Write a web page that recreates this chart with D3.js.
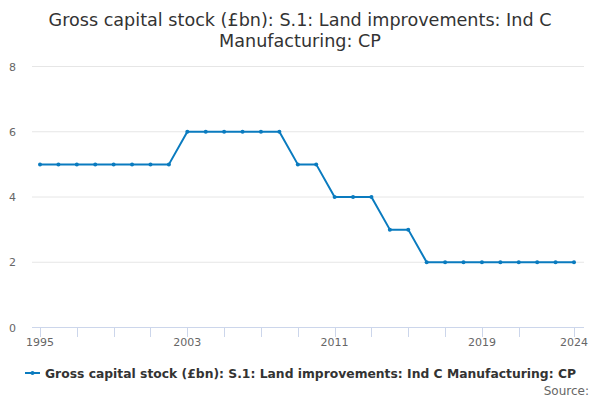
<!DOCTYPE html>
<html><head><meta charset="utf-8">
<script src="https://cdn.jsdelivr.net/npm/d3@7"></script>
<style>body{margin:0;background:#fff}svg{display:block;font-family:"DejaVu Sans",sans-serif}</style>
</head><body><svg id="c" width="600" height="400"></svg>
<script>
const years = d3.range(1995, 2025);
const values = [5,5,5,5,5,5,5,5,6,6,6,6,6,6,5,5,4,4,4,3,3,2,2,2,2,2,2,2,2,2];
const yTicks = [0,2,4,6,8];
const xLabelYears = [1995,2003,2011,2019,2024];
const xTickYears = [1995,1997,1999,2001,2003,2005,2007,2009,2011,2013,2015,2017,2019,2021,2024];
const titleLines = ["Gross capital stock (£bn): S.1: Land improvements: Ind C","Manufacturing: CP"];
const seriesName = "Gross capital stock (£bn): S.1: Land improvements: Ind C Manufacturing: CP";
const color = "#0a7bbf";

const svg = d3.select("#c");
const x = d3.scaleLinear().domain([1995,2024]).range([40,574]);
const y = d3.scaleLinear().domain([0,8]).range([327.5,66.5]);

svg.append("g").selectAll("text").data(titleLines).join("text")
  .attr("x",300).attr("y",(d,i)=>26+i*21).attr("text-anchor","middle")
  .attr("font-size",17.6).attr("fill","#333").text(d=>d);

// grid
svg.append("g").selectAll("line").data(yTicks.filter(t=>t>0)).join("line")
  .attr("x1",32).attr("x2",584).attr("y1",d=>y(d)).attr("y2",d=>y(d))
  .attr("stroke","#e6e6e6").attr("stroke-width",1);
svg.append("g").selectAll("text").data(yTicks).join("text")
  .attr("x",16).attr("y",d=>y(d)+4).attr("text-anchor","end")
  .attr("font-size",11).attr("fill","#666").text(d=>d);

// x axis
svg.append("line").attr("x1",32).attr("x2",584).attr("y1",327.5).attr("y2",327.5)
  .attr("stroke","#ccd6eb").attr("stroke-width",1);
svg.append("g").selectAll("line").data(xTickYears).join("line")
  .attr("x1",d=>Math.round(x(d))+0.5).attr("x2",d=>Math.round(x(d))+0.5).attr("y1",327).attr("y2",337)
  .attr("stroke","#ccd6eb").attr("stroke-width",1);
svg.append("g").selectAll("text").data(xLabelYears).join("text")
  .attr("x",d=>x(d)).attr("y",346).attr("text-anchor","middle")
  .attr("font-size",11).attr("fill","#666").text(d=>d);

// line
const data = years.map((yr,i)=>({yr,v:values[i]}));
svg.append("path").datum(data)
  .attr("d",d3.line().x(d=>x(d.yr)).y(d=>y(d.v)))
  .attr("fill","none").attr("stroke",color).attr("stroke-width",2).attr("stroke-linejoin","round");
svg.append("g").selectAll("circle").data(data).join("circle")
  .attr("cx",d=>x(d.yr)).attr("cy",d=>y(d.v)).attr("r",2).attr("fill",color);

// legend
const lg = svg.append("g");
lg.append("line").attr("x1",25).attr("x2",40).attr("y1",373).attr("y2",373).attr("stroke",color).attr("stroke-width",2);
lg.append("circle").attr("cx",32.5).attr("cy",373).attr("r",2).attr("fill",color);
lg.append("text").attr("x",45).attr("y",377.5).attr("font-size",12.5).attr("font-weight","bold")
  .attr("fill","#333").attr("textLength",531).attr("lengthAdjust","spacingAndGlyphs").text(seriesName);
svg.append("text").attr("x",589).attr("y",395).attr("text-anchor","end")
  .attr("font-size",12).attr("fill","#666").text("Source:");
</script></body></html>
